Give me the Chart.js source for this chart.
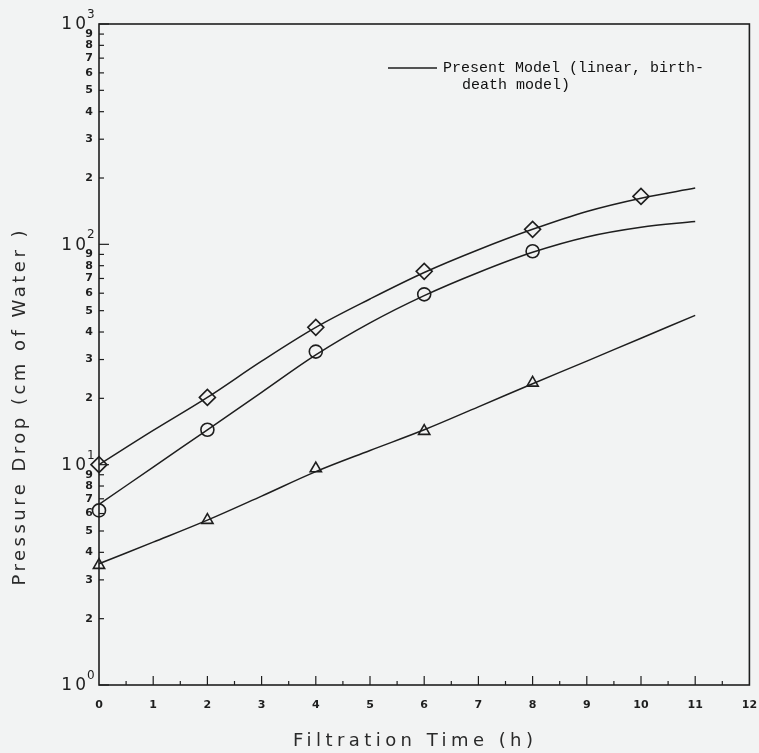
<!DOCTYPE html>
<html>
<head>
<meta charset="utf-8">
<script src="https://cdn.jsdelivr.net/npm/chart.js@4.4.1/dist/chart.umd.min.js"></script>
<style>
  html, body { margin: 0; background: #f2f3f3; }
  canvas { display: block; }
</style>
</head>
<body>
<canvas id="chart" width="759" height="753"></canvas>
<script>
// measured points (markers)
const diamondX = [0, 2, 4, 6, 8, 10];
const diamondY = [10, 20.2, 42, 75.4, 117, 165];
const circleX = [0, 2, 4, 6, 8];
const circleY = [6.2, 14.4, 32.6, 59.3, 93];
const triangleX = [0, 2, 4, 6, 8];
const triangleY = [3.5, 5.6, 9.6, 14.2, 23.5];

// model curves
const modelX = [0, 1, 2, 3, 4, 5, 6, 7, 8, 9, 10, 11];
const modelDiamond = [10, 14.3, 20.2, 29.5, 42, 56.5, 74.5, 94.5, 117, 141, 162, 180];
const modelCircle = [6.6, 9.75, 14.4, 21.3, 31.5, 44, 58.5, 74.5, 92, 108, 119.5, 127];
const modelTriangle = [3.55, 4.45, 5.6, 7.2, 9.3, 11.6, 14.4, 18.3, 23.3, 29.5, 37.5, 47.6];

// axis ticks
const xTicks = [0, 1, 2, 3, 4, 5, 6, 7, 8, 9, 10, 11, 12];
const yDecades = [1, 10, 100, 1000];
const yExponents = ['0', '1', '2', '3'];
const yMinor = [2, 3, 4, 5, 6, 7, 8, 9];

const xTitle = 'Filtration Time (h)';
const yTitle = 'Pressure Drop (cm of Water )';
const legendLines = ['Present Model (linear, birth-', 'death model)'];

const ink = '#1e1e1e';
const pts = (xs, ys) => xs.map((x, i) => ({ x, y: ys[i] }));

function spacedText(ctx, text, x, y, width) {
  // spread letters so the text spans the given width
  ctx.letterSpacing = '0px';
  const w = ctx.measureText(text).width;
  const sp = (width - w) / (text.length - 1);
  ctx.letterSpacing = sp + 'px';
  ctx.textAlign = 'left';
  ctx.fillText(text, x - width / 2, y);
  ctx.letterSpacing = '0px';
}

const paperAxes = {
  id: 'paperAxes',
  beforeDatasetsDraw(chart) {
    const { ctx, chartArea: a, scales: { x, y } } = chart;
    ctx.save();
    ctx.strokeStyle = ink;
    ctx.fillStyle = ink;
    ctx.lineWidth = 1.6;
    ctx.strokeRect(a.left, a.top, a.right - a.left, a.bottom - a.top);

    const seg = (x1, y1, x2, y2) => {
      ctx.beginPath(); ctx.moveTo(x1, y1); ctx.lineTo(x2, y2); ctx.stroke();
    };

    // x axis ticks and labels
    ctx.lineWidth = 1.2;
    ctx.font = 'bold 11px "DejaVu Sans"';
    ctx.textAlign = 'center';
    ctx.textBaseline = 'middle';
    xTicks.forEach((v, i) => {
      const px = x.getPixelForValue(v);
      if (i > 0 && i < xTicks.length - 1) seg(px, a.bottom, px, a.bottom - 9);
      if (i < xTicks.length - 1) {
        const ph = x.getPixelForValue(v + 0.5);
        seg(ph, a.bottom, ph, a.bottom - 4);
      }
      ctx.fillText(String(v), px, a.bottom + 20);
    });

    // y axis ticks and labels
    yDecades.forEach((d, i) => {
      const py = y.getPixelForValue(d);
      seg(a.left, py, a.left + 10, py);
      ctx.font = '17px "DejaVu Sans"';
      ctx.textAlign = 'right';
      ctx.textBaseline = 'middle';
      ctx.letterSpacing = '3px';
      ctx.fillText('10', a.left - 10, py + 1);
      ctx.letterSpacing = '0px';
      ctx.font = '12px "DejaVu Sans"';
      ctx.textAlign = 'left';
      ctx.fillText(yExponents[i], a.left - 12, py - 9);
      if (i < yDecades.length - 1) {
        yMinor.forEach(m => {
          const pm = y.getPixelForValue(m * d);
          seg(a.left, pm, a.left + 5, pm);
          ctx.font = 'bold 11px "DejaVu Sans"';
          ctx.textAlign = 'right';
          ctx.fillText(String(m), a.left - 6, pm);
        });
      }
    });

    // axis titles
    ctx.fillStyle = '#2a2a2a';
    ctx.font = '18px "DejaVu Sans"';
    ctx.textBaseline = 'middle';
    spacedText(ctx, xTitle, 413, 741, 240);
    ctx.save();
    ctx.translate(20, 408);
    ctx.rotate(-Math.PI / 2);
    spacedText(ctx, yTitle, 0, 0, 355);
    ctx.restore();

    // legend
    ctx.strokeStyle = ink;
    ctx.lineWidth = 1.4;
    seg(388, 68, 437, 68);
    ctx.fillStyle = '#111';
    ctx.font = '15px "Liberation Mono"';
    ctx.textAlign = 'left';
    ctx.textBaseline = 'middle';
    ctx.fillText(legendLines[0], 443, 68);
    ctx.fillText(legendLines[1], 462, 85);
    ctx.restore();
  }
};

const markerStyle = {
  showLine: false,
  borderColor: ink,
  backgroundColor: 'rgba(0,0,0,0)',
  borderWidth: 1.6,
  pointHoverRadius: 7
};
const curveStyle = {
  showLine: true,
  pointRadius: 0,
  borderColor: ink,
  borderWidth: 1.5,
  tension: 0.35,
  fill: false
};

new Chart(document.getElementById('chart').getContext('2d'), {
  type: 'scatter',
  data: {
    datasets: [
      { label: 'model a', data: pts(modelX, modelDiamond), ...curveStyle },
      { label: 'model b', data: pts(modelX, modelCircle), ...curveStyle },
      { label: 'model c', data: pts(modelX, modelTriangle), ...curveStyle },
      { label: 'diamond', data: pts(diamondX, diamondY), pointStyle: 'rectRot', pointRadius: 8, ...markerStyle },
      { label: 'circle', data: pts(circleX, circleY), pointStyle: 'circle', pointRadius: 6.5, ...markerStyle },
      { label: 'triangle', data: pts(triangleX, triangleY), pointStyle: 'triangle', pointRadius: 6.5, ...markerStyle }
    ]
  },
  options: {
    responsive: false,
    animation: false,
    clip: false,
    layout: { padding: { left: 99, top: 24, right: 9, bottom: 68 } },
    plugins: { legend: { display: false }, tooltip: { enabled: false } },
    scales: {
      x: { type: 'linear', min: 0, max: 12, display: false },
      y: { type: 'logarithmic', min: 1, max: 1000, display: false }
    }
  },
  plugins: [paperAxes]
});
</script>
</body>
</html>
